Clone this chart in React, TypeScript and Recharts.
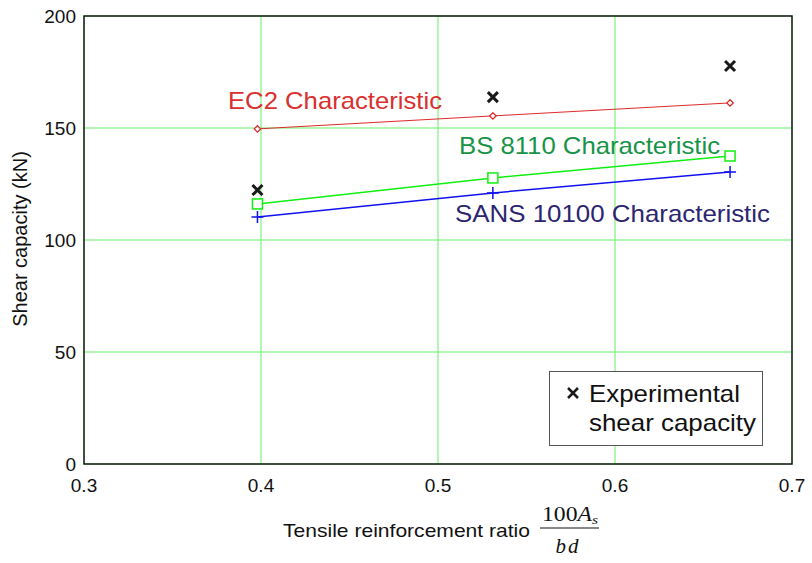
import React from 'react';
import { ComposedChart, Line, Scatter, XAxis, YAxis, CartesianGrid, ReferenceArea, Customized } from 'recharts';

// tensile reinforcement ratio 100As/bd for the three beams
const ratio = [0.398, 0.531, 0.665];
const ec2 = [149.6, 155.4, 161.2];
const bs8110 = [116.1, 127.7, 137.5];
const sans10100 = [110.3, 121.0, 130.4];
const experimental = [122.3, 163.8, 177.7];

const xTicks = [0.3, 0.4, 0.5, 0.6, 0.7];
const yTicks = [0, 50, 100, 150, 200];

const toPoints = (ys: number[]) => ratio.map((x, i) => ({ x, y: ys[i] }));

const SANS = '"Liberation Sans", Arial, Helvetica, sans-serif';
const SERIF = '"Liberation Serif", "Times New Roman", serif';

const Diamond = (p: any) => {
  const { cx, cy } = p;
  if (cx == null || cy == null) return <g key={p.index} />;
  const r = 3.2;
  return (
    <path key={p.index} d={`M${cx},${cy - r}L${cx + r},${cy}L${cx},${cy + r}L${cx - r},${cy}Z`}
      fill="#fff" stroke="#dd2a2a" strokeWidth={1.3} />
  );
};

const Square = (p: any) => {
  const { cx, cy } = p;
  if (cx == null || cy == null) return <g key={p.index} />;
  return <rect key={p.index} x={cx - 5} y={cy - 5} width={10} height={10} fill="#fff" stroke="#11ee11" strokeWidth={1.5} />;
};

const Plus = (p: any) => {
  const { cx, cy } = p;
  if (cx == null || cy == null) return <g key={p.index} />;
  return <path key={p.index} d={`M${cx - 6},${cy}H${cx + 6}M${cx},${cy - 6}V${cy + 6}`} stroke="#1111ee" strokeWidth={1.5} fill="none" />;
};

const Cross = (p: any) => {
  const { cx, cy } = p;
  if (cx == null || cy == null) return <g />;
  const r = 5;
  return <path d={`M${cx - r},${cy - r}L${cx + r},${cy + r}M${cx + r},${cy - r}L${cx - r},${cy + r}`} stroke="#1a1a1a" strokeWidth={3} fill="none" />;
};

// the source figure is stretched a little horizontally, so text is fitted to its measured width
const Overlay = () => (
  <g fontFamily={SANS}>
    <text x={228} y={109} fontSize={24} fill="#d93030" textLength={214} lengthAdjust="spacingAndGlyphs">EC2 Characteristic</text>
    <text x={459} y={154} fontSize={24} fill="#179447" textLength={261} lengthAdjust="spacingAndGlyphs">BS 8110 Characteristic</text>
    <text x={455} y={222} fontSize={24} fill="#2c2670" textLength={315} lengthAdjust="spacingAndGlyphs">SANS 10100 Characteristic</text>

    <rect x={549.5} y={371.5} width={213} height={74} fill="#fff" stroke="#555" strokeWidth={1} />
    <path d="M568,388L578,398M578,388L568,398" stroke="#1a1a1a" strokeWidth={2.5} />
    <text x={589} y={402} fontSize={24} fill="#111" textLength={151} lengthAdjust="spacingAndGlyphs">Experimental</text>
    <text x={589} y={431} fontSize={24} fill="#111" textLength={167} lengthAdjust="spacingAndGlyphs">shear capacity</text>
  </g>
);

const XTitle = () => (
  <g>
    <text x={283} y={537} fontSize={19} fontFamily={SANS} fill="#111" textLength={247} lengthAdjust="spacingAndGlyphs">
      Tensile reinforcement ratio
    </text>
    <text x={542} y={521} fontSize={20} fontFamily={SERIF} fill="#111" textLength={56} lengthAdjust="spacingAndGlyphs">
      100<tspan fontStyle="italic">A</tspan>
      <tspan fontStyle="italic" fontSize={13} dy={3}>s</tspan>
    </text>
    <line x1={540} x2={599} y1={528} y2={528} stroke="#111" strokeWidth={1} />
    <text x={568} y={553} fontSize={21} fontFamily={SERIF} fontStyle="italic" fill="#111" textAnchor="middle" letterSpacing={2}>bd</text>
  </g>
);

const YTitle = () => (
  <text x={0} y={0} transform="translate(27,239) rotate(-90)" textAnchor="middle" fontSize={20} fontFamily={SANS} fill="#111">
    Shear capacity (kN)
  </text>
);

export default function App() {
  return (
    <div style={{ position: 'absolute', left: 0, top: 0, width: 812, height: 563, background: '#fff' }}>
      <ComposedChart width={812} height={563} margin={{ top: 16, right: 20, bottom: 0, left: 0 }} style={{ fontFamily: SANS }}>
        <CartesianGrid stroke="#66ee66" strokeWidth={1} />
        <XAxis dataKey="x" type="number" domain={[0.3, 0.7]} ticks={xTicks} allowDataOverflow
          tickFormatter={(v: number) => v.toFixed(1)} height={99} axisLine={false} tickLine={false}
          tickSize={8} tickMargin={7} tick={{ fill: '#111', fontSize: 19 }} label={{ content: () => <XTitle /> }} />
        <YAxis type="number" domain={[0, 200]} ticks={yTicks} width={84} axisLine={false} tickLine={false}
          tickSize={6} tickMargin={2} tick={{ fill: '#111', fontSize: 19 }} label={{ content: () => <YTitle /> }} />
        <ReferenceArea x1={0.3} x2={0.7} y1={0} y2={200} fill="none" stroke="#1a1a1a" strokeWidth={1.5} fillOpacity={0} />
        <Line data={toPoints(ec2)} dataKey="y" stroke="#dd2a2a" strokeWidth={1} dot={Diamond} activeDot={false} isAnimationActive={false} />
        <Line data={toPoints(bs8110)} dataKey="y" stroke="#11ee11" strokeWidth={1.5} dot={Square} activeDot={false} isAnimationActive={false} />
        <Line data={toPoints(sans10100)} dataKey="y" stroke="#1111ee" strokeWidth={1.5} dot={Plus} activeDot={false} isAnimationActive={false} />
        <Scatter data={toPoints(experimental)} dataKey="y" shape={Cross} isAnimationActive={false} />
        <Customized component={<Overlay />} />
      </ComposedChart>
    </div>
  );
}
